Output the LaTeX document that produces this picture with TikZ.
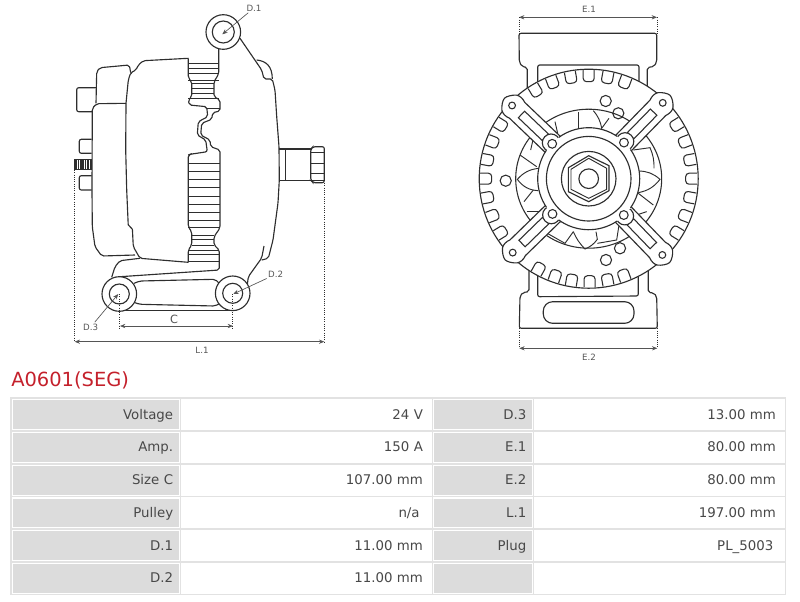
\documentclass[tikz,border=0pt]{standalone}
\usepackage{fontspec}
\setmainfont{DejaVu Sans}
\usetikzlibrary{arrows.meta}
\definecolor{inkc}{HTML}{2E2E2E}
\definecolor{dimc}{HTML}{555555}
\definecolor{gridc}{HTML}{E2E2E2}
\definecolor{cellc}{HTML}{DCDCDC}
\definecolor{textc}{HTML}{484848}
\definecolor{titlec}{HTML}{C4202B}
\tikzset{
  body/.style={draw=inkc,line width=0.85pt,rounded corners=1.5pt},
  rib/.style={draw=inkc,line width=0.7pt},
  dimtext/.style={text=dimc,font=\fontsize{6.5}{8}\selectfont,inner sep=1pt},
  dimline/.style={draw=dimc,line width=0.5pt,{Stealth[length=4pt,width=3.2pt]}-{Stealth[length=4pt,width=3.2pt]}},
  leader/.style={draw=dimc,line width=0.5pt,-{Stealth[length=4pt,width=3.2pt]}},
  dimguide/.style={draw=inkc,line width=0.7pt,densely dotted},
  labcell/.style={draw=white,line width=0.9pt,fill=cellc,text=textc,inner xsep=4.5pt,inner ysep=0pt,
    minimum height=22.4pt,text height=8.5pt,text depth=2pt,align=right,font=\fontsize{10}{12}\selectfont},
  valcell/.style={labcell,fill=white,inner xsep=6pt},
}
\begin{document}
\begin{tikzpicture}[x=0.75pt,y=0.75pt,yscale=-1,xscale=1]
\useasboundingbox (0,0) rectangle (800,601);

% side view: covers
\draw[body] (188.3,58.3) -- (143.3,60.7) -- (138.3,65) -- (136,70) -- (130.7,72.7) -- (128.3,80) -- (126,103.3) -- (125.7,150) -- (126.7,190) -- (128.3,226.7) -- (132.3,227.3) -- (133.3,246.7) -- (140,258.3) -- (188.3,262.3);
\draw[body] (130.7,72.7) -- (129.3,65) -- (100,67.7) -- (96.7,71.7) -- (96,103.3);
\draw[body] (126,103.3) -- (96.7,103.7) -- (92.3,108.3) -- (92,190) -- (92.3,226.7) -- (95,246.7) -- (101.7,256) -- (135,255);
\draw[body] (96.7,87.7) -- (76.7,87.7) -- (76.7,111.7) -- (92.3,111.7);
\draw[body] (91.7,139.3) -- (79.3,139.3) -- (79.3,153.3) -- (91.7,153.3);
\draw[body] (91.7,175.7) -- (79.3,175.7) -- (79.3,190) -- (91.7,190);
\draw[rib] (74.5,159.5) rectangle (91.7,169.5);
\foreach \gx in {76,78.4,...,90.5}
  \draw[draw=inkc,line width=1.1pt] (\gx,159.5) -- (\gx,169.5);

% side view: rear housing
\draw[body] (218.7,48) -- (218.7,74) -- (214,81.7) -- (214,96.7) -- (220,100) -- (220,111) -- (212.7,112.7) -- (211.7,119.3) -- (201.7,123.3) -- (200.7,135) -- (210,140) -- (210.7,146.7) -- (220,150) -- (220,228) -- (214,236.7) -- (214,245) -- (219.3,250) -- (219.3,270) -- (120,276.7);
\draw[body] (188.3,58.3) -- (188.3,78) -- (191.7,81.7) -- (191.7,96.7) -- (188.3,100) -- (189.3,105) -- (206.7,106.7) -- (207.7,116.7) -- (198.3,121.7) -- (197.3,135) -- (205.7,140) -- (207.3,151.7) -- (190,154.3) -- (188.3,155) -- (188.3,227) -- (191.7,231.7) -- (191.7,245) -- (188.3,250) -- (188.3,262.3);
\foreach \ry in {63.3,68.3,73.3,80}
  \draw[rib] (188.3,\ry) -- (218.7,\ry);
\foreach \ry in {83,88,93}
  \draw[rib] (191.7,\ry) -- (214,\ry);
\draw[rib] (188.3,98.5) -- (219,98.5);
\draw[rib] (206,108) -- (220,108);
\foreach \ry in {163.3,171.5,179.7,187.9,196.1,204.3,212.5,220.7,227.5}
  \draw[rib] (188.3,\ry) -- (220,\ry);
\foreach \ry in {235,239,245}
  \draw[rib] (191.7,\ry) -- (214,\ry);
\foreach \ry in {250,254.3,261.7}
  \draw[rib] (188.3,\ry) -- (219.3,\ry);

% side view: front housing
\draw[body] (240,38.3) -- (261.7,70) -- (264,79) -- (272.3,79) -- (275,90) -- (276.7,116.7) -- (279,146.7) -- (279.3,180) -- (278,203) -- (273,240) -- (268.3,258.3) -- (261.7,260);
\draw[draw=inkc,line width=0.85pt] (256.7,60) .. controls (266,61) and (272.3,66) .. (272.3,79);
\draw[body] (264,246) -- (261.7,258) -- (248.3,276.7) -- (247.3,285);
\draw[body] (279,149) -- (310.7,149);
\draw[body] (279,180.3) -- (310.7,180.3);
\draw[rib] (285,149) -- (285,180.3);
\draw[body] (310.7,149) -- (313,146.7) -- (324.3,146.7) -- (324.3,182.7) -- (313,182.7) -- (310.7,180.3) -- cycle;
\foreach \ry in {152.7,163.3,173.3,180}
  \draw[rib] (311,\ry) -- (324.3,\ry);

% side view: foot
\draw[body] (140,258.3) -- (120,260.7) -- (115,266.7) -- (111.7,277.3);
\draw[body] (134,283.3) -- (140,281) -- (215,279.3) -- (219.3,283.3);
\draw[body] (135,302.7) -- (140,304.3) -- (215,306) -- (220,303.3);
\draw[body] (119.3,310.7) -- (232.7,310.7);

% side view: lugs
\draw[draw=inkc,line width=0.85pt,fill=white] (223.3,32) circle (17.3);
\draw[draw=inkc,line width=0.85pt] (223.3,32) circle (11);
\draw[draw=inkc,line width=0.85pt,fill=white] (119.3,294) circle (17.3);
\draw[draw=inkc,line width=0.85pt] (119.3,294) circle (10);
\draw[draw=inkc,line width=0.85pt,fill=white] (232.7,293.3) circle (17.3);
\draw[draw=inkc,line width=0.85pt] (232.7,293.3) circle (10);

% side view: dimensions
\coordinate (lugonetip) at (222.3,34.3);
\coordinate (lugtwotip) at (233.3,294);
\coordinate (lugthreetip) at (118.3,294);
\coordinate (sizecleft) at (120,326);
\coordinate (sizecright) at (233,326);
\coordinate (lenleft) at (74.7,341.7);
\coordinate (lenright) at (324.3,341.7);
\node[dimtext] (lugonelab) at (254,8) {D.1};
\node[dimtext] (lugtwolab) at (275.7,274.3) {D.2};
\node[dimtext] (lugthreelab) at (90.7,327) {D.3};
\node[dimtext,font=\fontsize{8.5}{10}\selectfont] (sizeclab) at (174,319) {C};
\node[dimtext] (lenlab) at (202,350) {L.1};
\draw[leader] (lugonelab) -- (lugonetip);
\draw[leader] (lugtwolab) -- (lugtwotip);
\draw[leader] (lugthreelab) -- (lugthreetip);
\draw[dimline] (sizecleft) -- (sizecright);
\draw[dimline] (lenleft) -- (lenright);
\draw[dimguide] (119.5,294) -- (119.5,329);
\draw[dimguide] (232.9,294) -- (232.9,330);
\draw[dimguide] (74.7,170) -- (lenleft);
\draw[dimguide] (324.3,183) -- (lenright);

% end view: brackets
\draw[body] (527.3,100) -- (527.3,67.5) -- (522,66.5) -- (519.3,62) -- (519,33.3) -- (656.7,33.3) -- (656.7,62) -- (654,66.5) -- (647.3,67.5) -- (647.3,100);
\draw[body] (537.7,100) -- (537.7,65) -- (639,65) -- (639,100);
\draw[body] (529,260) -- (529,291.7) -- (523,292.5) -- (520,296) -- (519.3,328.3) -- (657.3,328.3) -- (656.7,296.7) -- (654,293) -- (648.3,292.5) -- (648.3,260);
\draw[body] (537.7,260) -- (537.7,296.7) -- (638.3,296) -- (638.3,260);
\draw[draw=inkc,line width=0.85pt,rounded corners=7pt] (543.3,301.7) rectangle (634,323.3);

% end view: rim
\draw[draw=inkc,line width=0.85pt,fill=white] (588.7,178.7) circle (109.5);
\foreach \toothang in {-31.5,-21,-10.5,0,10.5,21,31.5,148.5,159,169.5,180,190.5,201,211.5,-121,-110.5,-100,-90,-79.5,-69.5,119,109,99.5,89.5,79.5,70}{
  \begin{scope}[shift={(588.7,178.7)},rotate=\toothang]
    \draw[draw=inkc,line width=0.8pt,rounded corners=2.5pt] (108.5,-5.5) -- (97,-5.5) -- (97,5.5) -- (108.5,5.5);
  \end{scope}
}
\foreach \hx/\hy in {605.7/101,618.3/113.3,606/260,620/248.3,505.7/180.7}
  \draw[draw=inkc,line width=0.8pt] (\hx,\hy) circle (5.6);

% end view: fan (coordinates of the enlarged crop)
\draw[draw=inkc,line width=0.8pt] (588.7,178.7) ellipse (73 and 69.5);
\begin{scope}[shift={(510,100)},scale=1/3]
  \draw[rib] (143,100) -- (135,65);
  \draw[rib] (205,85) -- (205,35);
  \draw[rib] (250,32) to[bend right=15] (275,85) -- (297,55);
  \draw[rib] (30,165) -- (80,200);
  \draw[rib] (85,205) to[bend left=20] (22,238) to[bend left=25] (85,272);
  \draw[rib] (70,115) -- (62,150);
  \draw[rib] (42,305) -- (70,270);
  \draw[rib] (50,335) -- (100,335);
  \draw[rib] (370,150) -- (420,143) to[bend right=12] (432,205);
  \draw[rib] (385,213) to[bend right=20] (450,238) to[bend right=20] (385,278);
  \draw[rib] (385,280) -- (430,315);
  \draw[rib] (410,335) -- (365,350);
  \draw[rib] (112,400) -- (165,430) -- (190,395);
  \draw[rib] (190,395) to[bend left=10] (225,447) to[bend left=15] (262,418) -- (258,395);
  \draw[rib] (262,430) -- (320,420) -- (327,375);
\end{scope}

% end view: arms
\foreach \armang in {223.7,-45.7,135.8,46}{
  \begin{scope}[shift={(588.7,178.7)},rotate=\armang]
    \draw[draw=inkc,line width=0.85pt,fill=white] (42,-11) -- (99,-11) .. controls (103,-12.5) and (107,-12.5) .. (110,-10.5) .. controls (113,-8) and (116.5,-3) .. (116.5,0) .. controls (116.5,3) and (113,8) .. (110,10.5) .. controls (107,12.5) and (103,12.5) .. (99,11) -- (42,11) -- cycle;
    \draw[draw=inkc,line width=0.8pt] (60,-4.5) rectangle (93,4.5);
    \draw[draw=inkc,line width=0.8pt] (106,0) circle (3.4);
    \draw[draw=inkc,line width=0.85pt,fill=white] (52,0) circle (8.8);
  \end{scope}
}

% end view: hub
\fill[white] (588.7,178.7) circle (51);
\foreach \arcfrom/\arcto in {-35/35,56/126,146/214,234/304}
  \draw[draw=inkc,line width=0.85pt] (588.7,178.7) ++(\arcfrom:51) arc[start angle=\arcfrom,end angle=\arcto,radius=51];
\foreach \armang in {223.7,-45.7,135.8,46}{
  \begin{scope}[shift={(588.7,178.7)},rotate=\armang]
    \draw[draw=inkc,line width=0.8pt] (50.5,0) circle (4.4);
  \end{scope}
}
\draw[draw=inkc,line width=0.85pt] (588.7,178.7) circle (42.3);
\draw[draw=inkc,line width=0.85pt] (588.7,178.7) circle (27.3);
\draw[draw=inkc,line width=0.85pt,fill=white] (588.7,155.7) -- (609,165.7) -- (609,190.7) -- (588.7,201.7) -- (568.4,191.7) -- (568.4,167.7) -- cycle;
\draw[draw=inkc,line width=0.7pt] (588.7,158.3) -- (606.7,168.3) -- (606.7,189.3) -- (588.7,198.3) -- (571,189.3) -- (571,169.3) -- cycle;
\draw[draw=inkc,line width=0.85pt,fill=white] (588.7,178.7) circle (9.8);

% end view: dimensions
\coordinate (widetopleft) at (519,17.3);
\coordinate (widetopright) at (657,17.3);
\coordinate (widebotleft) at (519.3,348.3);
\coordinate (widebotright) at (657.3,348.3);
\node[dimtext] (widetoplab) at (589,9) {E.1};
\node[dimtext] (widebotlab) at (589,357) {E.2};
\draw[dimline] (widetopleft) -- (widetopright);
\draw[dimline] (widebotleft) -- (widebotright);
\draw[dimguide] (widetopleft) -- (519,33.3);
\draw[dimguide] (widetopright) -- (657,33.3);
\draw[dimguide] (519.3,328.3) -- (widebotleft);
\draw[dimguide] (657.3,328.3) -- (widebotright);

% title and table
\node[anchor=west,inner sep=0pt,text=titlec,font=\fontsize{14.6}{17}\selectfont] (parttitle) at (11,380) {A0601(SEG)};
\fill[gridc] (10,397) rectangle (786,595);
\foreach \rownum/\laba/\vala/\labb/\valb in {0/Voltage/24 V/D.3/13.00 mm,1/Amp./150 A/E.1/80.00 mm,2/Size C/107.00 mm/E.2/80.00 mm,3/Pulley/{n/a\kern2.5pt}/L.1/197.00 mm,4/D.1/11.00 mm/Plug/PL\_5003\kern2pt,5/D.2/11.00 mm/{}/{}}{
  \pgfmathsetmacro{\rowy}{414.7+32.75*\rownum}
  \node[labcell,text width=115.7pt] (laba\rownum) at (96,\rowy) {\laba};
  \node[valcell,text width=174.7pt] (vala\rownum) at (306.5,\rowy) {\vala};
  \node[labcell,text width=65.3pt] (labb\rownum) at (482.8,\rowy) {\labb};
  \node[valcell,text width=174.7pt] (valb\rownum) at (659.5,\rowy) {\valb};
}
\end{tikzpicture}
\end{document}
